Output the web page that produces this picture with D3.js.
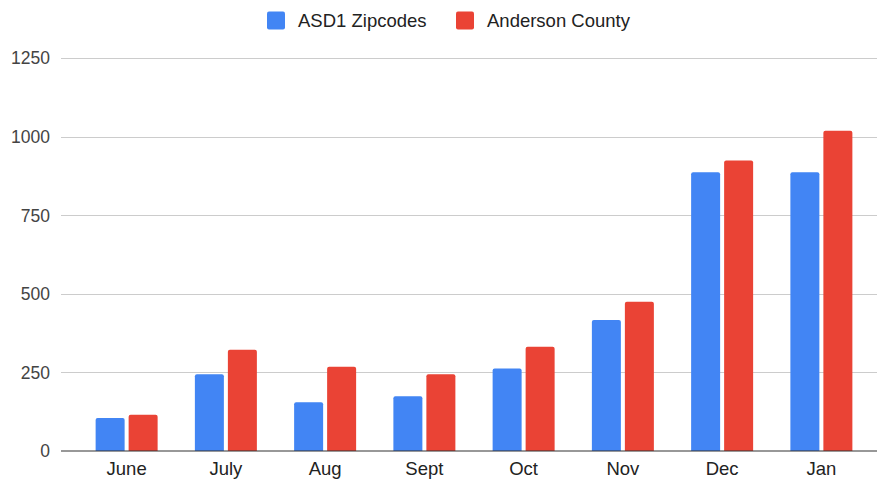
<!DOCTYPE html>
<html>
<head>
<meta charset="utf-8">
<script src="https://cdn.jsdelivr.net/npm/d3@7"></script>
<style>
  body { margin: 0; background: #fff; }
  svg { display: block; font-family: Arial, "Liberation Sans", sans-serif; }
</style>
</head>
<body>
<div id="chart"></div>
<script>
// data
const months = ["June", "July", "Aug", "Sept", "Oct", "Nov", "Dec", "Jan"];
const asdValues = [105, 244, 155, 174, 263, 417, 887, 887];
const andersonValues = [115, 322, 268, 244, 332, 475, 925, 1019];
const seriesNames = ["ASD1 Zipcodes", "Anderson County"];
const yTicks = [0, 250, 500, 750, 1000, 1250];

const colors = ["#4285f4", "#ea4335"];
const width = 877, height = 479;

const svg = d3.select("#chart").append("svg")
    .attr("width", width)
    .attr("height", height);

// scales
let x = d3.scaleBand()
    .domain(months)
    .range([77, 871])
    .paddingInner(0)
    .paddingOuter(0);

let y = d3.scaleLinear()
    .domain([0, 1250])
    .range([451, 58.3]);

let bandW = x.bandwidth();
let barW = 29, gap = 4;

// gridlines
svg.append("g")
    .selectAll("line")
    .data(yTicks.filter(d => d > 0))
    .enter()
    .append("line")
    .attr("x1", 61)
    .attr("x2", width)
    .attr("y1", d => Math.round(y(d)) + 0.5)
    .attr("y2", d => Math.round(y(d)) + 0.5)
    .attr("stroke", "#cccccc")
    .attr("stroke-width", 1);

// y labels
svg.append("g")
    .selectAll("text")
    .data(yTicks)
    .enter()
    .append("text")
    .attr("x", 50)
    .attr("y", d => y(d))
    .attr("dy", "0.35em")
    .attr("text-anchor", "end")
    .style("font-size", "17.5px")
    .style("fill", "#444")
    .text(d => d);

// bars with slightly rounded tops
function barPath(x0, w, yTop, yBase, r) {
    return "M" + x0 + "," + yBase +
        "V" + (yTop + r) +
        "Q" + x0 + "," + yTop + " " + (x0 + r) + "," + yTop +
        "H" + (x0 + w - r) +
        "Q" + (x0 + w) + "," + yTop + " " + (x0 + w) + "," + (yTop + r) +
        "V" + yBase + "Z";
}

[asdValues, andersonValues].forEach((vals, s) => {
    svg.append("g")
        .selectAll("path")
        .data(vals)
        .enter()
        .append("path")
        .attr("d", (d, i) => {
            let center = x(months[i]) + bandW / 2;
            let x0 = s === 0 ? center - gap / 2 - barW : center + gap / 2;
            return barPath(x0, barW, y(d), y(0), 2);
        })
        .attr("fill", colors[s]);
});

// baseline
svg.append("line")
    .attr("x1", 61)
    .attr("x2", width)
    .attr("y1", 451)
    .attr("y2", 451)
    .attr("stroke", "#333")
    .attr("stroke-width", 1.2);

// x labels
svg.append("g")
    .selectAll("text")
    .data(months)
    .enter()
    .append("text")
    .attr("x", d => x(d) + bandW / 2)
    .attr("y", 475)
    .attr("text-anchor", "middle")
    .style("font-size", "18.5px")
    .style("fill", "#222")
    .text(d => d);

// legend
let legendX = [267, 456];
seriesNames.forEach((name, i) => {
    svg.append("rect")
        .attr("x", legendX[i])
        .attr("y", 11.5)
        .attr("width", 18)
        .attr("height", 18)
        .attr("rx", 2)
        .attr("fill", colors[i]);

    svg.append("text")
        .attr("x", legendX[i] + 31)
        .attr("y", 20.5)
        .attr("dy", "0.35em")
        .style("font-size", "18.5px")
        .style("fill", "#222")
        .text(name);
});
</script>
</body>
</html>
